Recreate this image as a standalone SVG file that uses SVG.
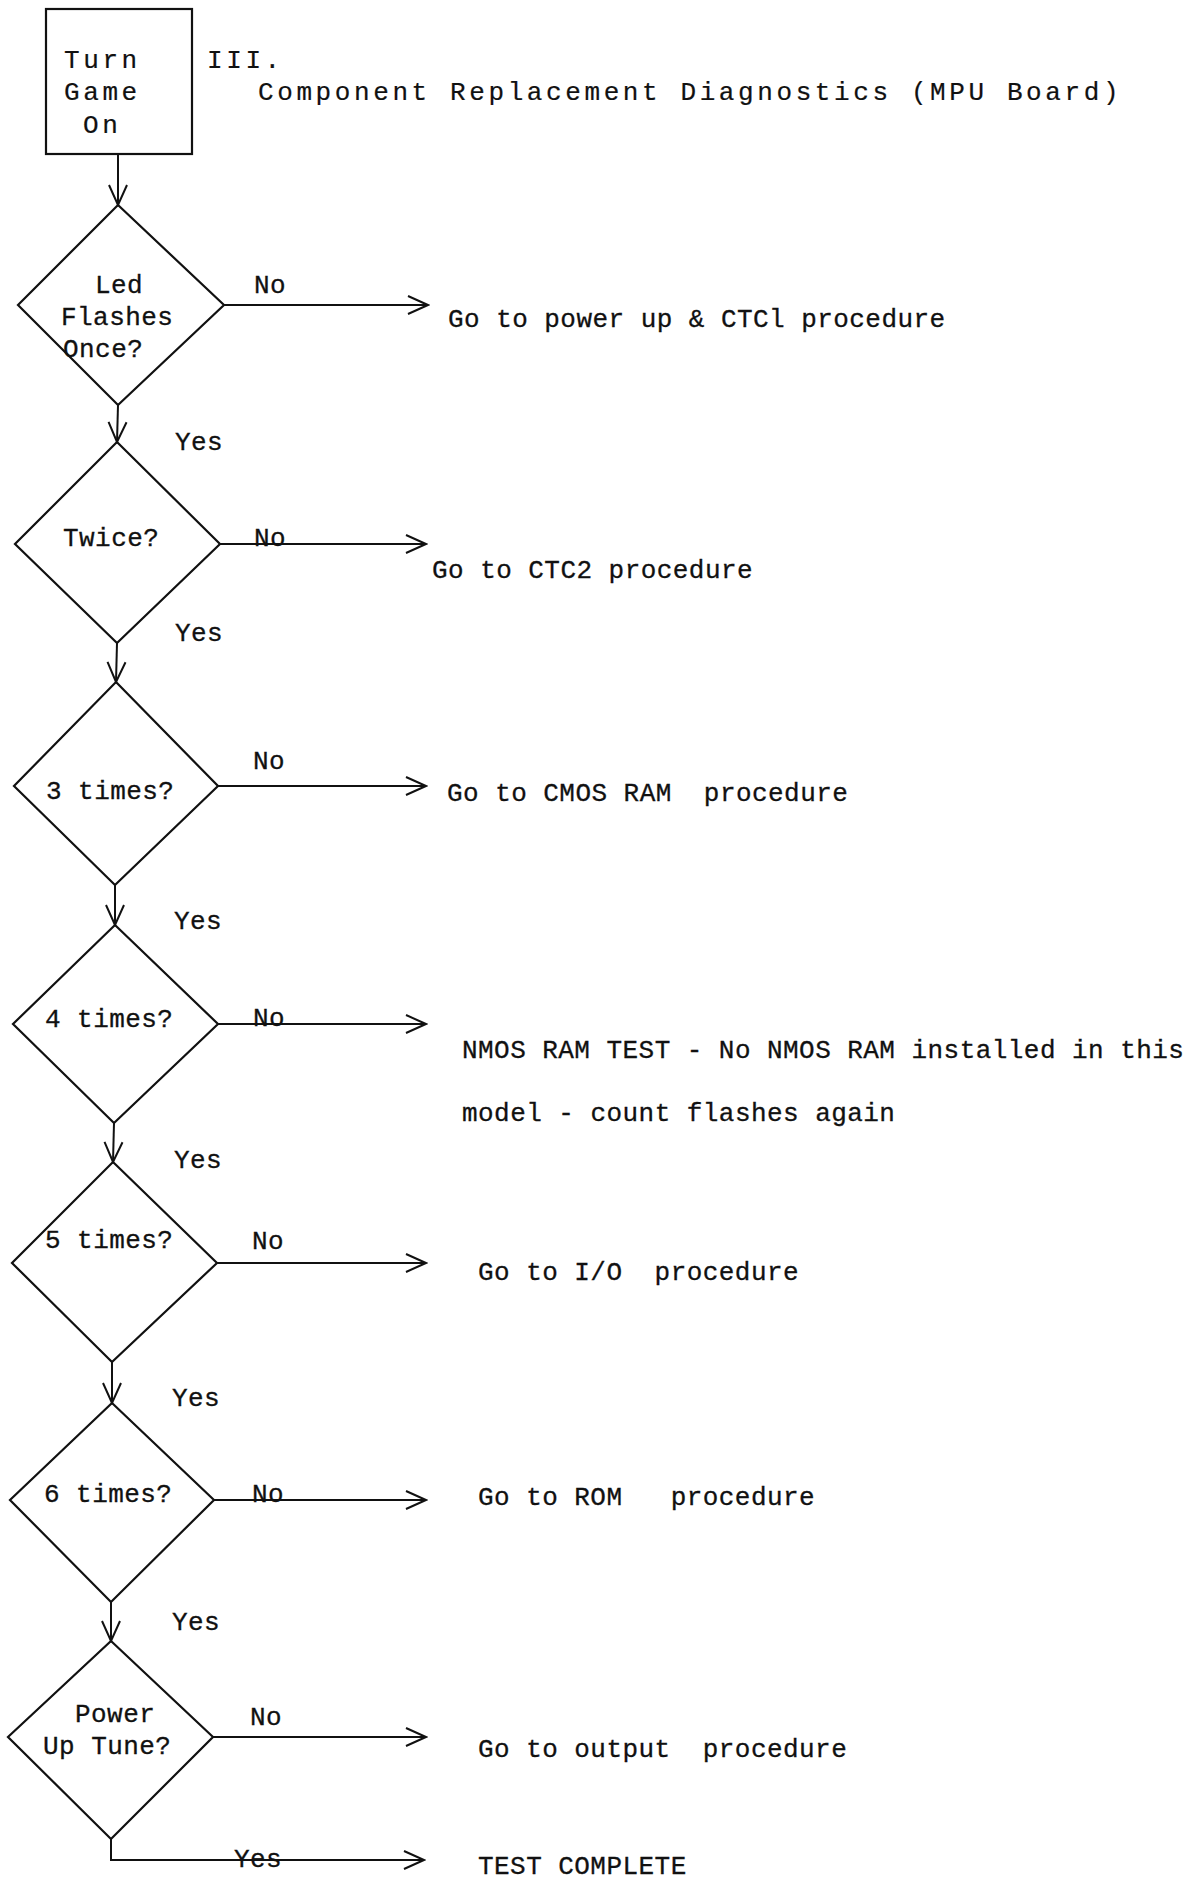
<svg xmlns="http://www.w3.org/2000/svg" width="1200" height="1882" viewBox="0 0 1200 1882">
<style>
  .shape { fill: none; stroke: #111; stroke-width: 2.2; stroke-linejoin: miter; }
  .conn { fill: none; stroke: #111; stroke-width: 2; }
  .t { font-family: "Liberation Mono", "DejaVu Sans Mono", monospace; font-size: 26px; letter-spacing: 0.45px; fill: #111; stroke: #111; stroke-width: 0.3; white-space: pre; }
  .p { font-family: "Liberation Mono", "DejaVu Sans Mono", monospace; font-size: 26px; letter-spacing: 3.6px; fill: #111; stroke: #111; stroke-width: 0.2; white-space: pre; }
</style>
<defs>
  <marker id="arr" viewBox="-22 -11 24 22" markerWidth="24" markerHeight="22" refX="0" refY="0" markerUnits="userSpaceOnUse" orient="auto">
    <path d="M-20,-9 L0,0 L-20,9" fill="none" stroke="#111" stroke-width="2"/>
  </marker>
</defs>
<rect width="1200" height="1882" fill="#fff"/>

<g id="title">
  <text class="p" x="207" y="68">III.</text>
  <text class="p" x="258" y="100">Component Replacement Diagnostics (MPU Board)</text>
</g>

<g id="start">
  <rect class="shape" x="46" y="9" width="146" height="145" stroke-width="2.6"/>
  <text class="p" x="64" y="68">Turn</text>
  <text class="p" x="64" y="100">Game</text>
  <text class="p" x="83" y="133">On</text>
</g>

<g id="d1">
  <polygon class="shape" points="118,205 224,305 118,405 18,305"/>
  <text class="t" x="95" y="293">Led</text>
  <text class="t" x="61" y="325">Flashes</text>
  <text class="t" x="63" y="357">Once?</text>
</g>
<g id="d2">
  <polygon class="shape" points="117,442 220,544 117,643 15,544"/>
  <text class="t" x="63" y="546">Twice?</text>
</g>
<g id="d3">
  <polygon class="shape" points="116,682 218,786 115,885 14,786"/>
  <text class="t" x="46" y="799">3 times?</text>
</g>
<g id="d4">
  <polygon class="shape" points="115,925 218,1024 114,1123 13,1024"/>
  <text class="t" x="45" y="1027">4 times?</text>
</g>
<g id="d5">
  <polygon class="shape" points="113,1162 217,1263 112,1362 12,1263"/>
  <text class="t" x="45" y="1248">5 times?</text>
</g>
<g id="d6">
  <polygon class="shape" points="112,1403 214,1500 111,1602 10,1500"/>
  <text class="t" x="44" y="1502">6 times?</text>
</g>
<g id="d7">
  <polygon class="shape" points="111,1641 213,1737 111,1839 8,1737"/>
  <text class="t" x="75" y="1722">Power</text>
  <text class="t" x="43" y="1754">Up Tune?</text>
</g>

<g id="outcomes">
  <text class="t" x="448" y="327">Go to power up &amp; CTCl procedure</text>
  <text class="t" x="432" y="578">Go to CTC2 procedure</text>
  <text class="t" x="447" y="801">Go to CMOS RAM  procedure</text>
  <text class="t" x="462" y="1058">NMOS RAM TEST - No NMOS RAM installed in this</text>
  <text class="t" x="462" y="1121">model - count flashes again</text>
  <text class="t" x="478" y="1280">Go to I/O  procedure</text>
  <text class="t" x="478" y="1505">Go to ROM   procedure</text>
  <text class="t" x="478" y="1757">Go to output  procedure</text>
  <text class="t" x="478" y="1874">TEST COMPLETE</text>
</g>

<g id="connectors">
  <line class="conn" x1="118" y1="154" x2="118" y2="205" marker-end="url(#arr)"/>
  <line class="conn" x1="118" y1="405" x2="117" y2="442" marker-end="url(#arr)"/>
  <line class="conn" x1="117" y1="643" x2="116" y2="682" marker-end="url(#arr)"/>
  <line class="conn" x1="115" y1="885" x2="115" y2="925" marker-end="url(#arr)"/>
  <line class="conn" x1="114" y1="1123" x2="113" y2="1162" marker-end="url(#arr)"/>
  <line class="conn" x1="112" y1="1362" x2="112" y2="1403" marker-end="url(#arr)"/>
  <line class="conn" x1="111" y1="1602" x2="111" y2="1641" marker-end="url(#arr)"/>
  <polyline class="conn" points="111,1839 111,1860 424,1860" marker-end="url(#arr)"/>

  <line class="conn" x1="224" y1="305" x2="428" y2="305" marker-end="url(#arr)"/>
  <line class="conn" x1="220" y1="544" x2="426" y2="544" marker-end="url(#arr)"/>
  <line class="conn" x1="218" y1="786" x2="426" y2="786" marker-end="url(#arr)"/>
  <line class="conn" x1="218" y1="1024" x2="426" y2="1024" marker-end="url(#arr)"/>
  <line class="conn" x1="217" y1="1263" x2="426" y2="1263" marker-end="url(#arr)"/>
  <line class="conn" x1="214" y1="1500" x2="426" y2="1500" marker-end="url(#arr)"/>
  <line class="conn" x1="213" y1="1737" x2="426" y2="1737" marker-end="url(#arr)"/>

  <text class="t" x="254" y="293">No</text>
  <text class="t" x="254" y="546">No</text>
  <text class="t" x="253" y="769">No</text>
  <text class="t" x="253" y="1026">No</text>
  <text class="t" x="252" y="1249">No</text>
  <text class="t" x="252" y="1502">No</text>
  <text class="t" x="250" y="1725">No</text>

  <text class="t" x="175" y="450">Yes</text>
  <text class="t" x="175" y="641">Yes</text>
  <text class="t" x="174" y="929">Yes</text>
  <text class="t" x="174" y="1168">Yes</text>
  <text class="t" x="172" y="1406">Yes</text>
  <text class="t" x="172" y="1630">Yes</text>
  <text class="t" x="234" y="1867">Yes</text>
</g>
</svg>
